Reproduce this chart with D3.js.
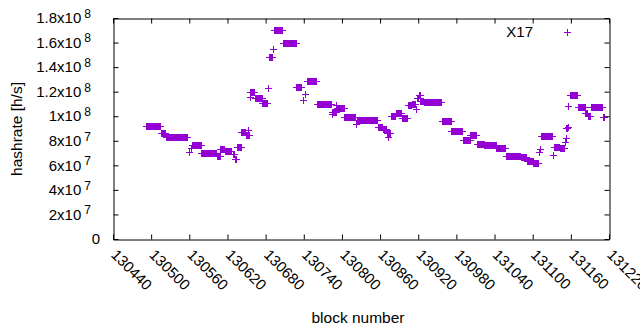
<!DOCTYPE html>
<html>
<head>
<meta charset="utf-8">
<script src="https://cdn.jsdelivr.net/npm/d3@7"></script>
<style>
  body { margin: 0; background: #fff; }
  text { font-family: "Liberation Sans", Arial, sans-serif; fill: #000; }
</style>
</head>
<body>
<svg width="640" height="330"></svg>
<script>
// runs of consecutive blocks that share the same hashrate (single points have from == to)
var blockFrom = [130492, 130515, 130524, 130560, 130562, 130564, 130579, 130603, 130609, 130616,
  130628, 130632, 130635, 130642, 130649, 130652, 130655, 130656, 130663, 130675,
  130684, 130686, 130691, 130693, 130707, 130728, 130739, 130742, 130745, 130761,
  130763, 130784, 130785, 130791, 130792, 130804, 130822, 130823, 130856, 130864,
  130871, 130873, 130877, 130885, 130894, 130904, 130910, 130916, 130918, 130921,
  130923, 130929, 130957, 130972, 130990, 131002, 131012, 131024, 131043, 131058,
  131067, 131081, 131091, 131101, 131110, 131111, 131113, 131132, 131134, 131143,
  131151, 131152, 131153, 131155, 131156, 131158, 131171, 131183, 131187, 131192,
  131210];
var blockTo = [130514, 130522, 130556, 130560, 130562, 130578, 130602, 130608, 130615, 130626,
  130630, 130634, 130641, 130648, 130654, 130652, 130655, 130662, 130674, 130682,
  130684, 130690, 130691, 130706, 130727, 130736, 130739, 130742, 130760, 130762,
  130783, 130784, 130790, 130791, 130803, 130821, 130822, 130855, 130863, 130870,
  130875, 130873, 130884, 130893, 130903, 130909, 130915, 130917, 130920, 130922,
  130927, 130956, 130971, 130989, 131001, 131011, 131023, 131042, 131057, 131066,
  131080, 131090, 131100, 131109, 131110, 131111, 131131, 131132, 131142, 131150,
  131151, 131152, 131154, 131155, 131156, 131170, 131182, 131186, 131190, 131209,
  131212];
var hashrate = [9.24e7, 8.63e7, 8.27e7, 7.06e7, 7.40e7, 7.63e7, 7.03e7, 6.76e7, 7.30e7, 7.17e7,
  6.90e7, 6.55e7, 7.47e7, 8.74e7, 8.50e7, 8.87e7, 1.16e8, 1.195e8, 1.15e8, 1.105e8,
  1.227e8, 1.48e8, 1.545e8, 1.70e8, 1.594e8, 1.235e8, 1.13e8, 1.18e8, 1.284e8, 1.10e8,
  1.097e8, 1.018e8, 1.037e8, 1.095e8, 1.064e8, 9.90e7, 9.33e7, 9.72e7, 9.12e7, 8.92e7,
  8.63e7, 8.30e7, 1.004e8, 1.03e8, 9.83e7, 1.091e8, 1.10e8, 1.06e8, 1.148e8, 1.175e8,
  1.125e8, 1.118e8, 9.58e7, 8.77e7, 8.09e7, 8.47e7, 7.76e7, 7.65e7, 7.38e7, 6.72e7,
  6.80e7, 6.65e7, 6.38e7, 6.16e7, 7.10e7, 7.30e7, 8.36e7, 6.84e7, 7.52e7, 7.38e7,
  7.86e7, 8.20e7, 9.04e7, 9.15e7, 1.08e8, 1.17e8, 1.077e8, 1.026e8, 1.00e8, 1.077e8,
  9.94e7];

var xTicks = [130440, 130500, 130560, 130620, 130680, 130740, 130800, 130860, 130920, 130980, 131040, 131100, 131160, 131220];
var yTicks = [0, 2e7, 4e7, 6e7, 8e7, 1e8, 1.2e8, 1.4e8, 1.6e8, 1.8e8];
var seriesName = 'X17';

var width = 640;
var height = 330;
var margin = {top: 18, bottom: 91, left: 113, right: 31};
var color = '#9400d3';
var arm = 3.5;
var tickFont = 15;

var xScale = d3.scaleLinear()
    .domain([130440, 131220])
    .range([margin.left, width - margin.right]);
var yScale = d3.scaleLinear()
    .domain([0, 1.8e8])
    .range([height - margin.bottom, margin.top]);

var svg = d3.select('svg');
svg.append('rect').attr('width', width).attr('height', height).attr('fill', '#fff');

// one point per block
var points = [];
blockFrom.forEach((from, i) => {
    d3.range(from, blockTo[i] + 1).forEach(b => points.push({block: b, value: hashrate[i]}));
});

// '+' marker snapped to the pixel grid like the png terminal
var plus = (px, py) => {
    px = Math.round(px) + 0.5;
    py = Math.round(py) + 0.5;
    return 'M' + (px - arm) + ',' + py + 'h' + (2 * arm) + 'M' + px + ',' + (py - arm) + 'v' + (2 * arm);
};

svg.append('g').selectAll('path')
    .data(points)
    .enter().append('path')
    .attr('d', d => plus(xScale(d.block), yScale(d.value)))
    .attr('fill', 'none')
    .attr('stroke', color)
    .attr('stroke-width', 1);

// axes (ticks pointing inward, mirrored)
var x0 = margin.left, x1 = width - margin.right;
var y0 = height - margin.bottom, y1 = margin.top;

svg.append('g')
    .attr('transform', 'translate(0,' + (y0 + 0.5) + ')')
    .call(d3.axisBottom(xScale).tickValues(xTicks).tickSize(-5).tickSizeOuter(0).tickFormat(''));
svg.append('g')
    .attr('transform', 'translate(0,' + (y1 + 0.5) + ')')
    .call(d3.axisTop(xScale).tickValues(xTicks).tickSize(-5).tickSizeOuter(0).tickFormat(''));
svg.append('g')
    .attr('transform', 'translate(' + (x0 + 0.5) + ',0)')
    .call(d3.axisLeft(yScale).tickValues(yTicks).tickSize(-5).tickSizeOuter(0).tickFormat(''));
svg.append('g')
    .attr('transform', 'translate(' + (x1 + 0.5) + ',0)')
    .call(d3.axisRight(yScale).tickValues(yTicks).tickSize(-5).tickSizeOuter(0).tickFormat(''));
svg.selectAll('.domain').attr('stroke', '#000');
svg.selectAll('.tick line').attr('stroke', '#000');

// y tick labels like 1.2x10^8
var yLab = svg.append('g');
yTicks.forEach(v => {
    var t = yLab.append('text')
        .attr('y', yScale(v))
        .attr('dy', '0.35em')
        .attr('text-anchor', 'end')
        .attr('font-size', tickFont);
    if (v === 0) {
        t.attr('x', x0 - 13).text('0');
    } else {
        var e = Math.floor(Math.log10(v) + 1e-9);
        var m = +(v / Math.pow(10, e)).toFixed(1);
        t.attr('x', x0 - 22);
        t.append('tspan').text(m + 'x10');
        t.append('tspan').attr('dx', 3).attr('dy', '-0.45em').attr('font-size', tickFont * 0.8).text(e);
    }
});

// x tick labels rotated
svg.append('g').selectAll('text')
    .data(xTicks)
    .enter().append('text')
    .attr('transform', d => 'translate(' + (xScale(d) + 1) + ',' + (y0 + 13) + ') rotate(45)')
    .attr('text-anchor', 'start')
    .attr('dy', '0.35em')
    .attr('font-size', tickFont)
    .text(d => d);

// axis titles
svg.append('text')
    .attr('x', (x0 + x1) / 2 - 3)
    .attr('y', 318)
    .attr('dy', '0.35em')
    .attr('text-anchor', 'middle')
    .attr('font-size', 15.5)
    .text('block number');
svg.append('text')
    .attr('transform', 'translate(17,129) rotate(-90)')
    .attr('dy', '0.35em')
    .attr('text-anchor', 'middle')
    .attr('font-size', 15.5)
    .text('hashrate [h/s]');

// key
svg.append('text')
    .attr('x', 533)
    .attr('y', 32)
    .attr('dy', '0.35em')
    .attr('text-anchor', 'end')
    .attr('font-size', 15)
    .text(seriesName);
svg.append('path')
    .attr('d', plus(567, 32))
    .attr('fill', 'none')
    .attr('stroke', color)
    .attr('stroke-width', 1);
</script>
</body>
</html>
